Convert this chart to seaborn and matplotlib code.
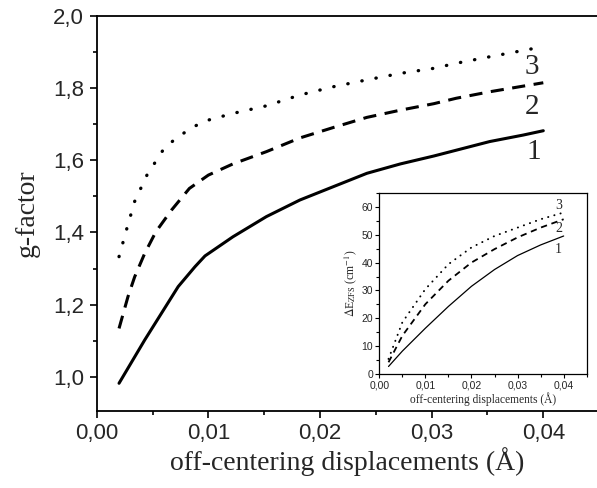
import matplotlib
matplotlib.use("Agg")
import matplotlib.pyplot as plt
import seaborn as sns
import pandas as pd
from matplotlib.ticker import MultipleLocator, FuncFormatter

# ---- data (main panel: g-factor) ----
x1 = [0.002, 0.0043, 0.0058, 0.0073, 0.0088, 0.0097, 0.0122, 0.0152, 0.0182, 0.0212, 0.0242,
      0.0272, 0.0302, 0.0322, 0.0352, 0.0382, 0.040]
g1 = [0.982, 1.102, 1.176, 1.250, 1.305, 1.335, 1.388, 1.444, 1.490, 1.527, 1.564,
      1.590, 1.612, 1.628, 1.652, 1.670, 1.682]
x2 = [0.002, 0.0028, 0.0034, 0.0043, 0.0053, 0.0067, 0.0083, 0.0100, 0.0122, 0.0152, 0.0182,
      0.0212, 0.0242, 0.0272, 0.0302, 0.0322, 0.0352, 0.040]
g2 = [1.134, 1.222, 1.277, 1.342, 1.402, 1.462, 1.522, 1.559, 1.590, 1.624, 1.662,
      1.691, 1.719, 1.739, 1.757, 1.772, 1.790, 1.815]
x3 = [0.002, 0.0027, 0.0034, 0.0045, 0.0061, 0.0073, 0.0085, 0.0097, 0.0122, 0.0152, 0.0182,
      0.0212, 0.0242, 0.0272, 0.0302, 0.0322, 0.0352, 0.040]
g3 = [1.333, 1.411, 1.486, 1.559, 1.636, 1.665, 1.690, 1.709, 1.730, 1.751, 1.781,
      1.804, 1.823, 1.841, 1.855, 1.869, 1.887, 1.915]

# ---- data (inset: zero-field splitting) ----
x_in = [0.002, 0.005, 0.010, 0.015, 0.020, 0.025, 0.030, 0.035, 0.040]
e1 = [2.8, 8.3, 16.5, 24.3, 31.5, 37.5, 42.5, 46.3, 49.5]
e2 = [4.3, 13.8, 25.1, 33.5, 40.0, 44.8, 49.0, 52.5, 55.5]
e3 = [5.5, 18.6, 30.5, 39.4, 45.4, 49.5, 52.5, 55.5, 57.9]

curve_labels = ["1", "2", "3"]

sns.set_style("ticks")
plt.rcParams["font.family"] = ["Liberation Sans", "DejaVu Sans"]
plt.rcParams["mathtext.fontset"] = "stix"

W, H = 597, 488
fig = plt.figure(figsize=(W / 100, H / 100), dpi=100)

def comma(fmt):
    return FuncFormatter(lambda v, p: fmt.format(v).replace(".", ","))

serif = ["Liberation Serif", "DejaVu Serif"]

# main axes
l, r, t, b = 96.7, 597, 16, 410.7
ax = fig.add_axes([l / W, 1 - b / H, (r - l) / W, (b - t) / H])

dot_ls = (0, (0.1, 4.2))
dash_ls = (0, (4.3, 2.8))
df1 = pd.DataFrame({"x": x1, "y": g1})
df2 = pd.DataFrame({"x": x2, "y": g2})
df3 = pd.DataFrame({"x": x3, "y": g3})
sns.lineplot(data=df1, x="x", y="y", ax=ax, color="black", lw=2.2, sort=False, estimator=None,
             solid_joinstyle="round")
sns.lineplot(data=df2, x="x", y="y", ax=ax, color="black", lw=2.2, sort=False, estimator=None,
             linestyle=dash_ls)
sns.lineplot(data=df3, x="x", y="y", ax=ax, color="black", lw=2.4, sort=False, estimator=None,
             linestyle=dot_ls, dash_capstyle="round")

ax.set_xlim(0, (r - l) / 11165)
ax.set_ylim(0.906, 2.0)
ax.xaxis.set_major_locator(MultipleLocator(0.01))
ax.xaxis.set_minor_locator(MultipleLocator(0.005))
ax.yaxis.set_major_locator(MultipleLocator(0.2))
ax.yaxis.set_minor_locator(MultipleLocator(0.1))
ax.xaxis.set_major_formatter(comma("{:.2f}"))
ax.yaxis.set_major_formatter(comma("{:.1f}"))
ax.tick_params(which="major", direction="out", length=5, width=1.2, labelsize=16, color="black", pad=4)
ax.tick_params(which="minor", direction="out", length=3, width=1.2, color="black")
for s in ["left", "bottom", "top"]:
    ax.spines[s].set_linewidth(1.3)
    ax.spines[s].set_color("black")
ax.spines["right"].set_visible(False)
ax.set_xlabel("off-centering displacements (Å)", fontsize=20, family=serif, labelpad=2)
ax.set_ylabel("g-factor", fontsize=20, family=serif, labelpad=10)

for lab, yy, xx in zip(curve_labels, [1.624, 1.749, 1.859], [0.0391, 0.03896, 0.03896]):
    ax.text(xx, yy, lab, fontsize=21, family=serif, ha="center", va="center")

# inset axes
il, ir, it, ib = 379.3, 586.7, 192.7, 374.3
ins = fig.add_axes([il / W, 1 - ib / H, (ir - il) / W, (ib - it) / H])
di1 = pd.DataFrame({"x": x_in, "y": e1})
di2 = pd.DataFrame({"x": x_in, "y": e2})
di3 = pd.DataFrame({"x": x_in, "y": e3})
sns.lineplot(data=di1, x="x", y="y", ax=ins, color="black", lw=0.9, sort=False, estimator=None)
sns.lineplot(data=di2, x="x", y="y", ax=ins, color="black", lw=1.3, sort=False, estimator=None,
             linestyle=(0, (3.5, 2.6)))
sns.lineplot(data=di3, x="x", y="y", ax=ins, color="black", lw=1.4, sort=False, estimator=None,
             linestyle=(0, (0.1, 3.2)), dash_capstyle="round")
ins.set_xlim(0, 0.045)
ins.set_ylim(0, 65)
ins.xaxis.set_major_locator(MultipleLocator(0.01))
ins.xaxis.set_minor_locator(MultipleLocator(0.005))
ins.yaxis.set_major_locator(MultipleLocator(10))
ins.yaxis.set_minor_locator(MultipleLocator(5))
ins.xaxis.set_major_formatter(comma("{:.2f}"))
ins.yaxis.set_major_formatter(FuncFormatter(lambda v, p: f"{v:.0f}"))
ins.tick_params(which="major", direction="out", length=3, width=0.8, labelsize=7.5, color="black", pad=1.5)
ins.tick_params(which="minor", direction="out", length=2, width=0.8, color="black")
for s in ins.spines.values():
    s.set_linewidth(0.9)
    s.set_color("black")
ins.set_xlabel("off-centering displacements (Å)", fontsize=8.3, family=serif, labelpad=1)
ins.set_ylabel(r"$\Delta$E$_{\rm ZFS}$ (cm$^{-1}$)", fontsize=8.5, family=serif, labelpad=2)
for lab, yy in zip(curve_labels, [44.5, 52.1, 60.5]):
    ins.text(0.0389, yy, lab, fontsize=10, family=serif, ha="center", va="center")

fig.savefig("out.png", dpi=100)
